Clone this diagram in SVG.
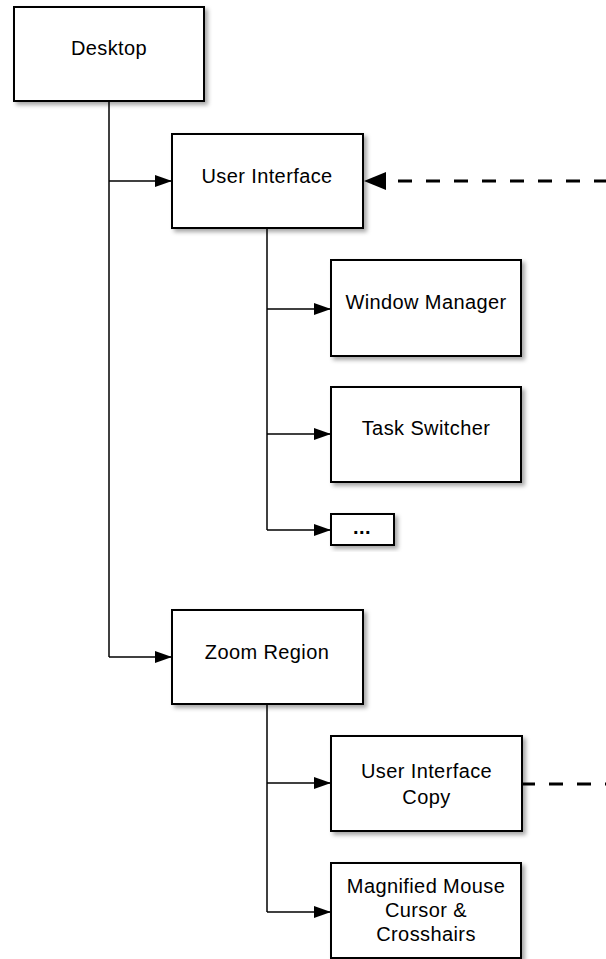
<svg xmlns="http://www.w3.org/2000/svg" width="606" height="959" viewBox="0 0 606 959">
<defs>
<style>
.box{fill:#fff;stroke:#000;stroke-width:2;filter:url(#sh)}
.lbl{font-family:"Liberation Sans",Arial,sans-serif;font-size:20px;fill:#000;text-anchor:middle;letter-spacing:0.4px}
.con{fill:none;stroke:#000;stroke-width:1.5}
.arr{marker-end:url(#ah)}
.dash{fill:none;stroke:#000;stroke-width:3;stroke-dasharray:14 14}
</style>
<filter id="sh" x="-10%" y="-10%" width="130%" height="130%">
<feDropShadow dx="3" dy="3" stdDeviation="2" flood-color="#000" flood-opacity="0.35"/>
</filter>
<marker id="ah" markerUnits="userSpaceOnUse" markerWidth="17" markerHeight="12" refX="17" refY="6" orient="auto" overflow="visible">
<path d="M0,0 L17,6 L0,12 z" fill="#000"/>
</marker>
<marker id="dah" markerUnits="userSpaceOnUse" markerWidth="22" markerHeight="18" refX="0" refY="9" orient="auto" overflow="visible">
<path d="M0,0 L22,9 L0,18 z" fill="#000"/>
</marker>
</defs>
<rect width="606" height="959" fill="#fff"/>
<g id="connectors">
<path class="con" d="M109,101 V657"/>
<path class="con arr" d="M109,181 H172"/>
<path class="con arr" d="M109,657 H172"/>
<path class="con" d="M267,228 V530"/>
<path class="con arr" d="M267,309 H331"/>
<path class="con arr" d="M267,434 H331"/>
<path class="con arr" d="M267,530 H331"/>
<path class="con" d="M267,704 V912"/>
<path class="con arr" d="M267,783 H331"/>
<path class="con arr" d="M267,912 H331"/>
<path class="dash" d="M608,181 L386,181" marker-end="url(#dah)"/>
<path class="dash" d="M521,784 L610,784"/>
</g>
<g id="desktop">
<rect class="box" x="14" y="7" width="190" height="94"/>
<text class="lbl" x="109" y="55">Desktop</text>
</g>
<g id="user-interface">
<rect class="box" x="172" y="134" width="191" height="94"/>
<text class="lbl" x="267" y="183">User Interface</text>
</g>
<g id="window-manager">
<rect class="box" x="331" y="260" width="190" height="96"/>
<text class="lbl" x="426" y="309">Window Manager</text>
</g>
<g id="task-switcher">
<rect class="box" x="331" y="387" width="190" height="95"/>
<text class="lbl" x="426" y="435">Task Switcher</text>
</g>
<g id="more">
<rect class="box" x="331" y="514" width="63" height="31"/>
<text class="lbl" x="362" y="534" font-weight="bold">...</text>
</g>
<g id="zoom-region">
<rect class="box" x="172" y="610" width="191" height="94"/>
<text class="lbl" x="267" y="659">Zoom Region</text>
</g>
<g id="user-interface-copy">
<rect class="box" x="331" y="736" width="191" height="95"/>
<text class="lbl" x="426.5" y="778">User Interface</text>
<text class="lbl" x="426.5" y="804">Copy</text>
</g>
<g id="magnified-mouse">
<rect class="box" x="331" y="863" width="190" height="95"/>
<text class="lbl" x="426" y="893">Magnified Mouse</text>
<text class="lbl" x="426" y="917">Cursor &amp;</text>
<text class="lbl" x="426" y="941">Crosshairs</text>
</g>
</svg>
